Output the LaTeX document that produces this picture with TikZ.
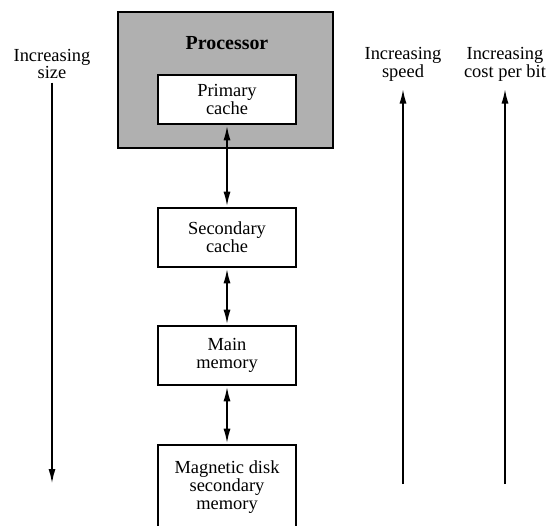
\documentclass[tikz,border=0pt]{standalone}
\usepackage{fontspec}
\setmainfont{Liberation Serif}
\usepackage{tikz}
\usetikzlibrary{arrows.meta}
\usepackage{xcolor}
\definecolor{procgray}{RGB}{176,176,176}
\newcommand{\hierfont}{\fontsize{18.5}{18}\selectfont}

\begin{document}
\begin{tikzpicture}[x=1bp, y=-1bp, >={Latex[length=15bp, width=7bp]},
    memblock/.style={draw, line width=2.6bp, fill=white, minimum width=138bp, align=center, font=\hierfont},
    link/.style={<->, line width=2bp},
    trend/.style={->, line width=2bp},
    trendlabel/.style={align=center, font=\hierfont}]
    \useasboundingbox (0,0) rectangle (550,526);
    % processor with its primary cache
    \node[draw, line width=2.6bp, fill=procgray, minimum width=215bp, minimum height=136bp] (proc) at (225.5,80) {};
    \node[font=\fontsize{20}{20}\selectfont\bfseries] (proclabel) at (227,43) {Processor};
    \node[memblock, minimum height=49bp] (primary) at (227,99.5) {Primary\\cache};
    % lower levels
    \node[memblock, minimum height=59bp] (secondary) at (227,237.5) {Secondary\\cache};
    \node[memblock, minimum height=59bp] (mainmem) at (227,355.5) {Main\\memory};
    \node[memblock, minimum height=84bp] (disk) at (227,487) {Magnetic disk\\secondary\\memory};
    \draw[link] (primary) -- (secondary);
    \draw[link] (secondary) -- (mainmem);
    \draw[link] (mainmem) -- (disk);
    % trends
    \node[trendlabel] (sizelabel) at (52,64) {Increasing\\size};
    \node[trendlabel] (speedlabel) at (403,64) {Increasing\\speed};
    \node[trendlabel] (costlabel) at (505,64) {Increasing\\cost per bit};
    \coordinate (sizeend) at (52,484);
    \coordinate (speedstart) at (403,484);
    \coordinate (coststart) at (505,484);
    \draw[trend] (sizelabel) -- (sizeend);
    \draw[trend, shorten >=4bp] (speedstart) -- (speedlabel);
    \draw[trend, shorten >=4bp] (coststart) -- (costlabel);
\end{tikzpicture}
\end{document}
